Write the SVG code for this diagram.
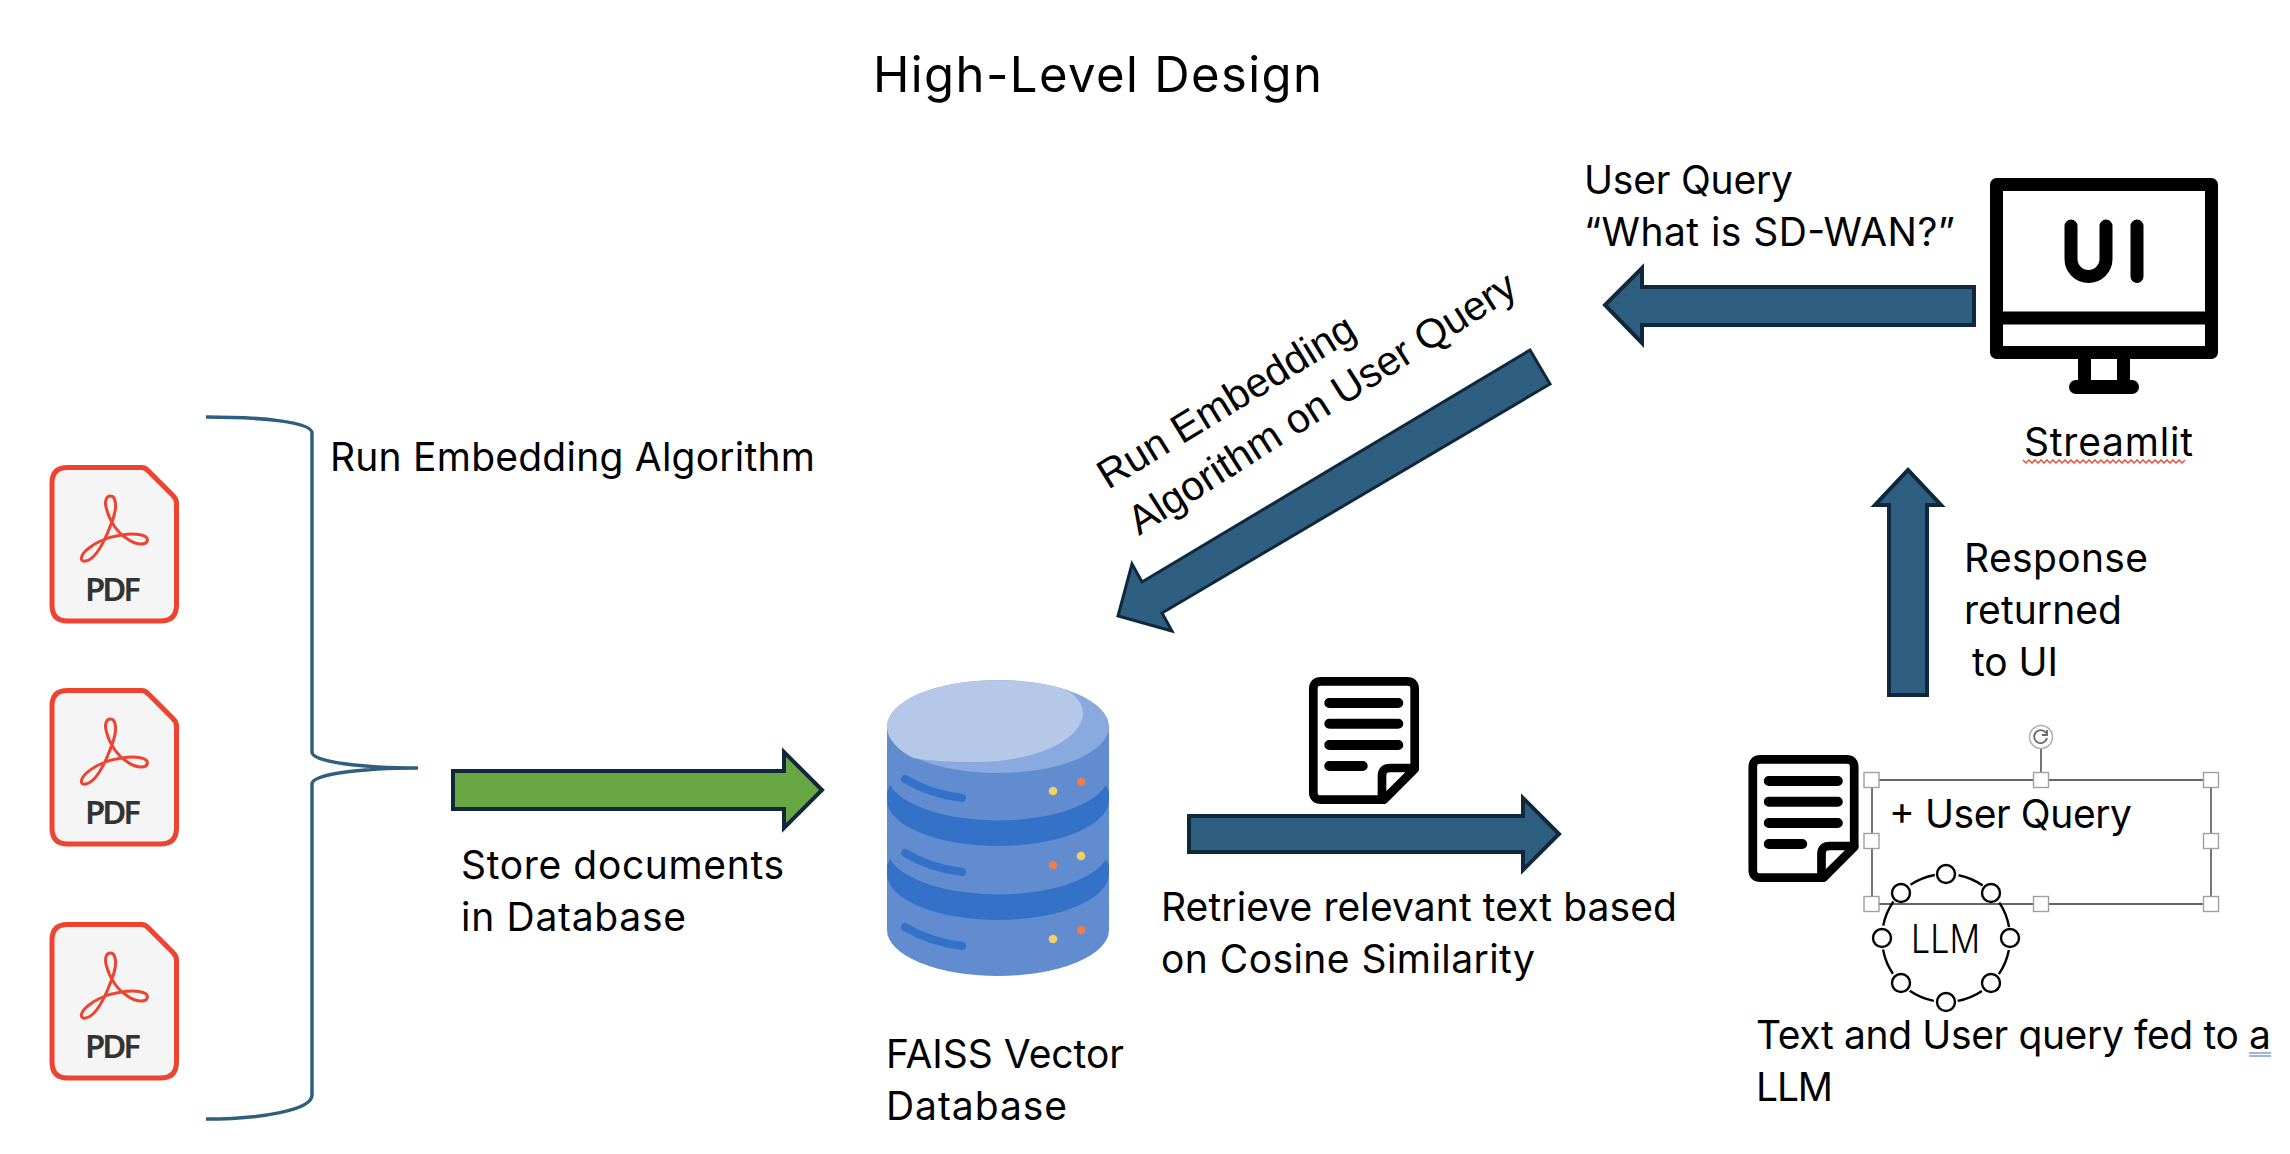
<svg xmlns="http://www.w3.org/2000/svg" width="2290" height="1154" viewBox="0 0 2290 1154">
<style>
text{font-family:Inter,"Liberation Sans",sans-serif;font-size:39px;fill:#000}
.title{font-size:49px}
.rot{font-family:"Liberation Sans",Arial,sans-serif;font-size:41px}
.pdft{font-family:"Noto Sans",sans-serif;font-size:33px;font-weight:600;fill:#333}
.arrow{fill:#2f5f80;stroke:#10283c;stroke-width:4;stroke-linejoin:miter}
.thin{stroke-width:3}
.green{fill:#67a643;stroke:#10283c;stroke-width:4}
.brace{fill:none;stroke:#2f5f80;stroke-width:3.5}
.ic{fill:#fff;stroke:#000;stroke-width:8.7;stroke-linejoin:round;stroke-linecap:round}
.ln{fill:none;stroke:#000;stroke-width:10;stroke-linecap:round}
.slot{fill:none;stroke:#3372c8;stroke-width:8;stroke-linecap:round}
.h{fill:#fff;stroke:#a0a0a0;stroke-width:1.4}
.sel{fill:none;stroke:#666;stroke-width:1.8}
.node{fill:#fff;stroke:#000;stroke-width:2.4}
</style>
<defs>
<g id="pdf">
<path d="M18 2.500H92Q96 2.500 99 6L123 30Q127 34 127 38V140Q127 156 111 156H18Q2.500 156 2.500 140V18Q2.500 2.500 18 2.500Z" fill="#f5f5f5" stroke="#ee4330" stroke-width="5"/>
<path d="M61 31C56 31 55 38 57 44C60 56 68 68 78 74C86 80 97 81 98 75C98 69 84 68 72 70C58 72 44 78 36 86C30 92 31 97 36 96C44 95 52 82 58 68C63 56 67 46 66 38C65 33 64 31 61 31Z" fill="none" stroke="#ee4330" stroke-width="3"/>
</g>
<g id="doc">
<path class="ic" d="M12 4.300H98Q105.700 4.300 105.700 12V92L75 122.700H12Q4.300 122.700 4.300 115V12Q4.300 4.300 12 4.300Z"/>
<path class="ic" d="M73 122V99Q73 91 81 91H105.700" style="fill:none"/>
<path class="ln" d="M20.300 26H89.300M20.300 46.700H89.300M20.300 68H89.300M20.300 89H53.700"/>
</g>
</defs>
<rect width="2290" height="1154" fill="#fff"/>
<g id="title"><text class="title" x="873" y="92" textLength="449">High-Level Design</text></g>
<g id="connectors">
<path class="brace" d="M206 417C262 417 312 422 312 433V752C312 762 362 768 418 768C362 768 312 774 312 784V1095C312 1110 262 1119 206 1119"/>
<path class="green" d="M453 771H784V752L822 790L784 828V809H453Z"/>
<path class="arrow" d="M1189 816H1523V798L1559 834L1523 870V852H1189Z"/>
<path class="arrow thin" d="M1530 350L1550 384L1162 613L1172 631L1118 616L1132 564L1142 582Z"/>
<path class="arrow" d="M1974 287V325H1642V343L1605 305L1642 268V287Z"/>
<path class="arrow" d="M1889 695V505H1875L1908 470L1941 505H1927V695Z"/>
</g>
<g id="pdf1"><use href="#pdf" x="49.500" y="465"/><text class="pdft" x="85" y="601" textLength="56">PDF</text></g>
<g id="pdf2"><use href="#pdf" x="49.500" y="688"/><text class="pdft" x="85" y="824" textLength="56">PDF</text></g>
<g id="pdf3"><use href="#pdf" x="49.500" y="922"/><text class="pdft" x="85" y="1058" textLength="56">PDF</text></g>
<g id="label-embed"><text x="330" y="471" textLength="485">Run Embedding Algorithm</text></g>
<g id="label-store"><text x="461" y="879" textLength="323">Store documents</text><text x="461" y="931" textLength="225">in Database</text></g>
<g id="database">
<path d="M887 726V930A111 46 0 0 0 1109 930V726Z" fill="#618dd0"/>
<path d="M887 800A111 46 0 0 0 1109 800V792L1106 785A111 46 0 0 1 890 785L887 792Z" fill="#3372c8"/>
<path d="M887 874A111 46 0 0 0 1109 874V866L1106 859A111 46 0 0 1 890 859L887 866Z" fill="#3372c8"/>
<ellipse cx="998" cy="726.500" rx="111" ry="46.500" fill="#8aaadf"/>
<path d="M887 726.500A111 46.500 0 0 1 1063 689C1076 694 1083 704 1083 714C1081 742 1030 762 977 762C950 762 930 761 913 758C897 750 887 738 887 726.500Z" fill="#b5c8e8"/>
<path class="slot" d="M905 779Q930 794 962 798M905 853Q930 868 962 872M905 927Q930 942 962 946"/>
<circle cx="1081" cy="782" r="4.300" fill="#ed7d4e"/><circle cx="1053" cy="791" r="4.300" fill="#f5cf63"/>
<circle cx="1081" cy="856" r="4.300" fill="#f5cf63"/><circle cx="1053" cy="865" r="4.300" fill="#ed7d4e"/>
<circle cx="1081" cy="930" r="4.300" fill="#ed7d4e"/><circle cx="1053" cy="939" r="4.300" fill="#f5cf63"/>
</g>
<g id="label-faiss"><text x="886" y="1068" textLength="238">FAISS Vector</text><text x="886" y="1120" textLength="181">Database</text></g>
<g id="doc1"><use href="#doc" x="1309" y="677"/></g>
<g id="label-retrieve"><text x="1161" y="921" textLength="516">Retrieve relevant text based</text><text x="1161" y="973" textLength="374">on Cosine Similarity</text></g>
<g id="label-rotated"><text class="rot" transform="translate(1108 490) rotate(-31.500)">Run Embedding</text><text class="rot" transform="translate(1139 536) rotate(-32.500)">Algorithm on User Query</text></g>
<g id="label-query"><text x="1584" y="194" textLength="209">User Query</text><text x="1584" y="246" textLength="371">“What is SD-WAN?”</text></g>
<g id="streamlit">
<path d="M1996.500 184.500H2211.500V352.500H1996.500Z" fill="#fff" stroke="#000" stroke-width="13" stroke-linejoin="round"/>
<path d="M1996 318H2212" stroke="#000" stroke-width="13"/>
<path d="M2084.500 359V386.500M2123.500 359V386.500" stroke="#000" stroke-width="13"/>
<path d="M2076 387H2132" stroke="#000" stroke-width="14" stroke-linecap="round"/>
<path d="M2071 226V259A17.500 17.500 0 0 0 2106 259V226M2137 226V276.500" fill="none" stroke="#000" stroke-width="13" stroke-linecap="round"/>
<text x="2024" y="456" textLength="169">Streamlit</text>
<path d="M2023 460l3 3l3-3l3 3l3-3l3 3l3-3l3 3l3-3l3 3l3-3l3 3l3-3l3 3l3-3l3 3l3-3l3 3l3-3l3 3l3-3l3 3l3-3l3 3l3-3l3 3l3-3l3 3l3-3l3 3l3-3l3 3l3-3l3 3l3-3l3 3l3-3l3 3l3-3l3 3l3-3l3 3l3-3l3 3l3-3l3 3l3-3l3 3l3-3l3 3l3-3l3 3l3-3l3 3l3-3" fill="none" stroke="#e8432e" stroke-width="1.3"/>
</g>
<g id="label-response"><text x="1964" y="572" textLength="184">Response</text><text x="1964" y="624" textLength="158">returned</text><text x="1972" y="676" textLength="86">to UI</text></g>
<g id="doc2"><use href="#doc" x="1748.500" y="755"/></g>
<g id="selection">
<path class="sel" d="M1872 780H2211V904H1872ZM2041 780V749"/>
<rect class="h" x="1864" y="772.500" width="15" height="15"/><rect class="h" x="2033.500" y="772.500" width="15" height="15"/><rect class="h" x="2203.500" y="772.500" width="15" height="15"/>
<rect class="h" x="1864" y="833.500" width="15" height="15"/><rect class="h" x="2203.500" y="833.500" width="15" height="15"/>
<rect class="h" x="1864" y="896.500" width="15" height="15"/><rect class="h" x="2033.500" y="896.500" width="15" height="15"/><rect class="h" x="2203.500" y="896.500" width="15" height="15"/>
<circle cx="2041" cy="737" r="11.500" fill="#fff" stroke="#b0b0b0" stroke-width="1.500"/>
<path d="M2046 733A6.500 6.500 0 1 0 2047 738M2047 730V735H2042" fill="none" stroke="#666" stroke-width="1.800"/>
<text x="1889" y="828" textLength="243">+ User Query</text>
</g>
<g id="llm">
<circle cx="1946" cy="938" r="64" fill="none" stroke="#000" stroke-width="2.400" stroke-dasharray="26.300 24" stroke-dashoffset="-12"/>
<circle class="node" cx="1946" cy="874" r="9"/><circle class="node" cx="1991" cy="893" r="9"/><circle class="node" cx="2010" cy="938" r="9"/><circle class="node" cx="1991" cy="983" r="9"/>
<circle class="node" cx="1946" cy="1002" r="9"/><circle class="node" cx="1901" cy="983" r="9"/><circle class="node" cx="1882" cy="938" r="9"/><circle class="node" cx="1901" cy="893" r="9"/>
<text x="1911" y="953" textLength="69" lengthAdjust="spacingAndGlyphs" style="font-weight:300">LLM</text>
</g>
<g id="label-llm"><text x="1756" y="1049" textLength="515">Text and User query fed to a</text><text x="1756" y="1101" textLength="77">LLM</text>
<path d="M2249 1053H2271M2249 1056H2271" stroke="#3a6fd8" stroke-width="1.200"/></g>
</svg>
